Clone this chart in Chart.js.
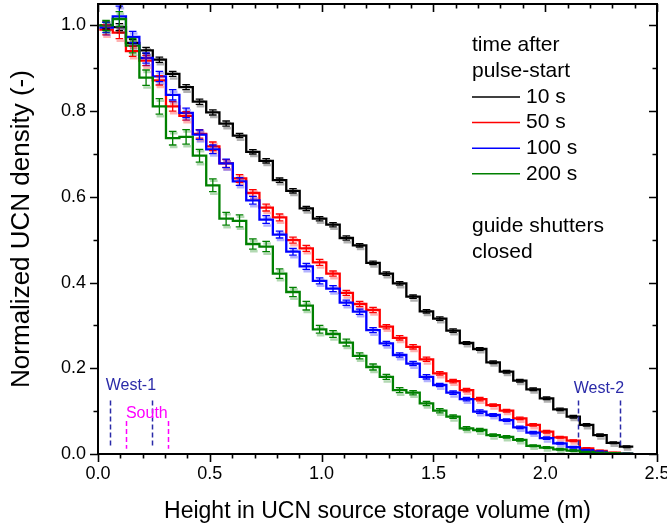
<!DOCTYPE html>
<html><head><meta charset="utf-8">
<script src="https://cdn.jsdelivr.net/npm/chart.js@4/dist/chart.umd.min.js"></script>
<style>html,body{margin:0;padding:0;background:#fff;}</style>
</head><body>
<canvas id="c" width="667" height="530"></canvas>
<script>
// ---- data ----
const binEdges = [0.006,0.066,0.125,0.185,0.245,0.304,0.364,0.424,0.484,0.543,0.603,0.663,0.722,0.782,0.842,0.902,0.961,1.021,1.081,1.140,1.200,1.260,1.319,1.379,1.439,1.499,1.558,1.618,1.678,1.737,1.797,1.857,1.916,1.976,2.036,2.096,2.155,2.215,2.275,2.334,2.394];
const dens10s = [1.000,0.996,0.959,0.942,0.920,0.887,0.856,0.822,0.797,0.771,0.743,0.705,0.684,0.639,0.614,0.573,0.549,0.535,0.504,0.487,0.446,0.421,0.398,0.367,0.333,0.316,0.288,0.259,0.245,0.214,0.192,0.171,0.151,0.130,0.104,0.087,0.068,0.044,0.026,0.017];
const dens50s = [0.990,0.983,0.940,0.918,0.872,0.811,0.789,0.747,0.718,0.678,0.643,0.609,0.575,0.552,0.499,0.480,0.447,0.421,0.376,0.350,0.336,0.297,0.271,0.250,0.221,0.188,0.170,0.149,0.128,0.114,0.101,0.083,0.068,0.052,0.039,0.031,0.013,0.007,0.003,0.001];
const dens100s = [0.995,1.021,0.973,0.924,0.881,0.838,0.796,0.745,0.711,0.678,0.636,0.592,0.547,0.512,0.472,0.438,0.404,0.386,0.353,0.332,0.289,0.258,0.231,0.211,0.180,0.161,0.143,0.128,0.099,0.091,0.079,0.062,0.050,0.037,0.025,0.016,0.009,0.005,0.002,0.001];
const dens200s = [1.000,1.015,0.953,0.878,0.811,0.737,0.740,0.696,0.627,0.549,0.544,0.490,0.484,0.421,0.378,0.346,0.291,0.280,0.260,0.229,0.203,0.180,0.149,0.143,0.118,0.101,0.087,0.060,0.056,0.044,0.040,0.033,0.019,0.015,0.011,0.008,0.005,0.003,0.002,0.001];
const err10s = [0.008,0.008,0.008,0.007,0.006,0.006,0.006,0.006,0.006,0.006,0.005,0.005,0.005,0.005,0.005,0.005,0.005,0.005,0.005,0.004,0.004,0.004,0.004,0.004,0.004,0.004,0.004,0.003,0.003,0.003,0.003,0.003,0.003,0.003,0.003,0.003,0.003,0.003,0.002,0.002];
const err50s = [0.012,0.014,0.012,0.012,0.011,0.011,0.010,0.010,0.010,0.009,0.009,0.008,0.008,0.008,0.007,0.007,0.007,0.006,0.006,0.006,0.006,0.005,0.005,0.005,0.005,0.004,0.004,0.004,0.004,0.003,0.003,0.003,0.003,0.003,0.002,0.002,0.002,0.002,0.001,0.001];
const err100s = [0.012,0.024,0.013,0.012,0.012,0.012,0.011,0.011,0.010,0.010,0.009,0.009,0.009,0.008,0.008,0.007,0.007,0.007,0.006,0.006,0.006,0.005,0.005,0.005,0.005,0.004,0.004,0.004,0.004,0.003,0.003,0.003,0.003,0.003,0.002,0.002,0.002,0.002,0.001,0.001];
const err200s = [0.012,0.017,0.017,0.018,0.018,0.016,0.017,0.015,0.015,0.015,0.014,0.012,0.012,0.011,0.011,0.010,0.009,0.008,0.008,0.007,0.007,0.006,0.006,0.005,0.005,0.005,0.004,0.004,0.004,0.003,0.003,0.003,0.002,0.002,0.002,0.002,0.001,0.001,0.001,0.001];
const seriesLabels = ['10 s','50 s','100 s','200 s'];
const xTickValues = [0.0,0.5,1.0,1.5,2.0,2.5];
const yTickValues = [0.0,0.2,0.4,0.6,0.8,1.0];
const legendTitle = ['time after','pulse-start'];
const legendNote = ['guide shutters','closed'];
// annotation markers (data units)
const markerLabels = ['West-1','South','West-2'];
const markerX1 = [0.054,0.125,2.145];
const markerX2 = [0.240,0.312,2.335];
const markerTop = [0.125,0.077,0.125];
const markerBottom = [0.014,0.012,0.014];
const markerTextY = [0.160,0.095,0.153];

// ---- styles ----
const FONT = 'Liberation Sans, Arial, Helvetica, sans-serif';
const colors = ['#000000','#ff0000','#0000ff','#008000'];
const markerColors = ['#2a2aa8','#ff00ff','#2a2aa8'];
const values = [dens10s,dens50s,dens100s,dens200s];
const errors = [err10s,err50s,err100s,err200s];

Chart.defaults.font.family = FONT;
Chart.defaults.color = '#000';

const datasets = values.map((vals, s) => ({
  label: seriesLabels[s],
  data: binEdges.map((x, i) => ({x: x, y: vals[Math.min(i, vals.length - 1)]})),
  borderColor: colors[s],
  backgroundColor: colors[s],
  borderWidth: 2.3,
  pointRadius: 0,
  fill: false,
  stepped: 'before',
  order: 3 - s
}));

const decor = {
  id: 'decor',
  afterDatasetsDraw(chart) {
    const ctx = chart.ctx, xs = chart.scales.x, ys = chart.scales.y, a = chart.chartArea;
    ctx.save();
    ctx.beginPath(); ctx.rect(a.left, a.top, a.right - a.left, a.bottom - a.top); ctx.clip();
    // error bars
    for (let s = 0; s < values.length; s++) {
      const vals = values[s], errs = errors[s];
      for (let i = 0; i < vals.length; i++) {
        const cx = xs.getPixelForValue((binEdges[i] + binEdges[i + 1]) / 2);
        const y1 = ys.getPixelForValue(vals[i] + errs[i]);
        const y2 = ys.getPixelForValue(vals[i] - errs[i]);
        const hw = 3.8;
        ctx.globalAlpha = 0.3;
        ctx.strokeStyle = colors[s];
        ctx.lineWidth = 2.5;
        ctx.beginPath();
        ctx.moveTo(cx - hw + 1, y1 + 2); ctx.lineTo(cx + hw + 1, y1 + 2);
        ctx.moveTo(cx - hw + 1, y2 + 2); ctx.lineTo(cx + hw + 1, y2 + 2);
        ctx.stroke();
        ctx.globalAlpha = 1;
        ctx.lineWidth = 1.3;
        ctx.beginPath();
        ctx.moveTo(cx, y1); ctx.lineTo(cx, y2);
        ctx.moveTo(cx - hw, y1); ctx.lineTo(cx + hw, y1);
        ctx.moveTo(cx - hw, y2); ctx.lineTo(cx + hw, y2);
        ctx.stroke();
      }
    }
    // markers
    ctx.setLineDash([5, 3]);
    ctx.lineWidth = 1.5;
    for (let m = 0; m < markerLabels.length; m++) {
      ctx.strokeStyle = markerColors[m];
      const t = ys.getPixelForValue(markerTop[m]), b = ys.getPixelForValue(markerBottom[m]);
      [markerX1[m], markerX2[m]].forEach(xv => {
        const px = Math.round(xs.getPixelForValue(xv)) + 0.5;
        ctx.beginPath(); ctx.moveTo(px, t); ctx.lineTo(px, b); ctx.stroke();
      });
    }
    ctx.setLineDash([]);
    ctx.font = '16px ' + FONT;
    ctx.textAlign = 'center';
    ctx.textBaseline = 'middle';
    for (let m = 0; m < markerLabels.length; m++) {
      ctx.fillStyle = markerColors[m];
      ctx.fillText(markerLabels[m], xs.getPixelForValue((markerX1[m] + markerX2[m]) / 2), ys.getPixelForValue(markerTextY[m]));
    }
    ctx.restore();
  },
  afterDraw(chart) {
    const ctx = chart.ctx, xs = chart.scales.x, ys = chart.scales.y, a = chart.chartArea;
    ctx.save();
    ctx.strokeStyle = '#000';
    ctx.lineWidth = 2;
    ctx.strokeRect(a.left, a.top, a.right - a.left, a.bottom - a.top);
    ctx.lineWidth = 1.6;
    const MAJ = 8, MIN = 4.5;
    ctx.beginPath();
    for (let k = 0; k <= 25; k++) {
      const v = k / 10, px = Math.round(xs.getPixelForValue(v)) + 0.5;
      const len = (k % 5 === 0) ? MAJ : MIN;
      ctx.moveTo(px, a.bottom); ctx.lineTo(px, a.bottom + len);
      ctx.moveTo(px, a.top); ctx.lineTo(px, a.top + len);
    }
    for (let k = 0; k <= 10; k++) {
      const v = k / 10, py = Math.round(ys.getPixelForValue(v)) + 0.5;
      const len = (k % 2 === 0) ? MAJ : MIN;
      ctx.moveTo(a.left, py); ctx.lineTo(a.left - len, py);
      ctx.moveTo(a.right, py); ctx.lineTo(a.right - len, py);
    }
    ctx.stroke();
    // legend
    ctx.font = '21px ' + FONT;
    ctx.textAlign = 'left';
    ctx.textBaseline = 'middle';
    ctx.fillStyle = '#000';
    const lx = 472;
    ctx.fillText(legendTitle[0], lx, 45);
    ctx.fillText(legendTitle[1], lx, 71);
    for (let s = 0; s < seriesLabels.length; s++) {
      const y = 97 + s * 25.6;
      ctx.strokeStyle = colors[s];
      ctx.lineWidth = 1.5;
      ctx.beginPath(); ctx.moveTo(lx, y); ctx.lineTo(lx + 48, y); ctx.stroke();
      ctx.fillStyle = '#000';
      ctx.fillText(seriesLabels[s], lx + 54, y);
    }
    ctx.fillText(legendNote[0], lx, 226);
    ctx.fillText(legendNote[1], lx, 252);
    ctx.restore();
  }
};

new Chart(document.getElementById('c'), {
  type: 'line',
  data: {datasets},
  options: {
    responsive: false,
    animation: false,
    devicePixelRatio: 1,
    layout: {padding: {left: 0, right: 10, top: 4, bottom: 0}},
    plugins: {legend: {display: false}, tooltip: {enabled: false}},
    scales: {
      x: {
        type: 'linear', min: 0, max: 2.5,
        grid: {display: false, drawTicks: false, tickLength: 0},
        border: {display: false},
        afterBuildTicks: s => { s.ticks = xTickValues.map(v => ({value: v})); },
        ticks: {font: {size: 18}, color: '#000', padding: 9, maxRotation: 0, autoSkip: false,
                callback: v => Number(v).toFixed(1)},
        title: {display: true, text: 'Height in UCN source storage volume (m)', font: {size: 23}, color: '#000', padding: {top: 0, bottom: 5}},
        afterFit: s => { s.height = 76; s.paddingLeft = 0; s.paddingRight = 0; }
      },
      y: {
        type: 'linear', min: 0, max: 1.05,
        grid: {display: false, drawTicks: false, tickLength: 0},
        border: {display: false},
        afterBuildTicks: s => { s.ticks = yTickValues.map(v => ({value: v})); },
        ticks: {font: {size: 18}, color: '#000', padding: 12, autoSkip: false,
                callback: v => Number(v).toFixed(1)},
        title: {display: true, text: 'Normalized UCN density (-)', font: {size: 26}, color: '#000', padding: {top: 6, bottom: 0}},
        afterFit: s => { s.width = 98; s.paddingTop = 0; s.paddingBottom = 0; }
      }
    }
  },
  plugins: [decor]
});
</script>
</body></html>
